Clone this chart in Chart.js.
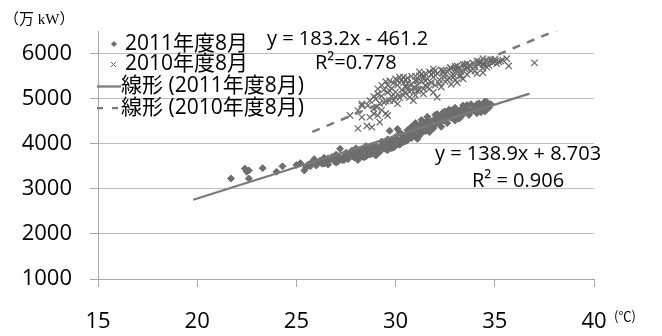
<!DOCTYPE html>
<html>
<head>
<meta charset="utf-8">
<script src="https://cdn.jsdelivr.net/npm/chart.js@4.4.1/dist/chart.umd.min.js"></script>
<style>
  html, body { margin: 0; padding: 0; background: #fff; }
  #wrap { width: 662px; height: 336px; position: relative; }
</style>
</head>
<body>
<div id="wrap"><canvas id="c"></canvas></div>
<script>
// August 2011: temperature (°C) vs. demand (万 kW)
const temp2011 = [
  21.7, 22.4, 22.5, 22.6, 22.6, 23.3, 24.0, 24.3, 25.0, 25.2, 25.4, 25.5, 25.6, 25.8, 25.9,
  26.0, 26.1, 26.2, 26.2, 26.3, 26.4, 26.5, 26.6, 26.6, 26.7, 26.8, 26.9, 27.0, 27.0, 27.1,
  27.1, 27.2, 27.3, 27.4, 27.5, 27.5, 27.6, 27.7, 27.8, 27.8, 27.9, 28.0, 28.0, 28.1, 28.2,
  28.2, 28.3, 28.4, 28.5, 28.5, 28.6, 28.6, 28.7, 28.8, 28.9, 29.0, 29.0, 29.1, 29.1, 29.2,
  29.3, 29.3, 29.4, 29.4, 29.5, 29.6, 29.6, 29.7, 29.7, 29.8, 29.8, 29.9, 30.0, 30.0, 30.1,
  30.1, 30.2, 30.2, 30.3, 30.3, 30.4, 30.4, 30.5, 30.6, 30.6, 30.7, 30.8, 30.8, 30.9, 30.9,
  31.0, 31.0, 31.1, 31.1, 31.2, 31.2, 31.3, 31.3, 31.4, 31.5, 31.5, 31.6, 31.6, 31.7, 31.7,
  31.8, 31.9, 32.0, 32.0, 32.1, 32.1, 32.2, 32.3, 32.3, 32.4, 32.5, 32.6, 32.6, 32.7, 32.8,
  32.8, 32.9, 33.0, 33.0, 33.1, 33.2, 33.3, 33.3, 33.4, 33.5, 33.6, 33.7, 33.8, 33.9, 34.0,
  34.0, 34.1, 34.2, 34.3, 34.4, 34.4, 34.5, 34.6, 34.7, 34.8,
  27.2, 27.4, 27.6, 27.9, 28.1, 28.3, 28.4, 28.7, 28.8, 29.0, 29.2, 29.5, 29.7, 29.9, 30.0,
  30.2, 30.5, 30.7, 30.9, 31.0, 31.2, 31.4, 31.6, 31.8, 32.0, 32.2, 32.4, 32.5, 32.7, 32.9,
  33.1, 33.2, 33.4, 33.6, 33.8, 34.1, 34.3, 34.5, 34.7, 26.9, 26.4, 25.7
];
const load2011 = [
  3230, 3450, 3380, 3410, 3230, 3460, 3380, 3500, 3530, 3570, 3410, 3480, 3540, 3600, 3660,
  3520, 3580, 3630, 3600, 3560, 3690, 3600, 3540, 3680, 3650, 3710, 3620, 3580, 3760, 3680,
  3610, 3890, 3640, 3720, 3800, 3700, 3660, 3750, 3850, 3770, 3700, 3780, 3900, 3640, 3830,
  3700, 3760, 3880, 3720, 3950, 3820, 3880, 3900, 3780, 3860, 3960, 3740, 3880, 3800, 3820,
  3940, 4050, 3900, 4000, 3980, 3860, 4100, 4290, 3960, 4040, 3900, 3920, 4000, 4150, 4330,
  4060, 3980, 4080, 4100, 4220, 4040, 4150, 4160, 4300, 4080, 4200, 4380, 4130, 4250, 4180,
  4460, 4180, 4110, 4320, 4400, 4300, 4240, 4530, 4360, 4460, 4280, 4600, 4380, 4400, 4260,
  4500, 4340, 4560, 4420, 4660, 4500, 4480, 4600, 4380, 4700, 4540, 4640, 4460, 4760, 4580,
  4680, 4680, 4520, 4800, 4640, 4720, 4600, 4760, 4850, 4700, 4780, 4640, 4880, 4740, 4820,
  4760, 4680, 4900, 4780, 4850, 4800, 4720, 4930, 4800, 4880,
  3700, 3640, 3780, 3810, 3740, 3860, 3700, 3760, 3940, 3850, 3920, 3880, 4060, 4120, 3960,
  4250, 4060, 4320, 4400, 4260, 4180, 4470, 4500, 4400, 4640, 4560, 4520, 4720, 4600, 4760,
  4700, 4560, 4680, 4860, 4720, 4880, 4700, 4940, 4860, 3700, 3560, 3500
];

// August 2010: temperature (°C) vs. demand (万 kW)
const temp2010 = [
  27.7, 28.1, 28.1, 28.3, 28.3, 28.3, 28.55, 28.7, 28.7, 28.8, 28.9, 28.9, 29.0, 29.05, 29.1,
  29.1, 29.1, 29.2, 29.2, 29.3, 29.4, 29.4, 29.5, 29.5, 29.6, 29.6, 29.6, 29.7, 29.7, 29.8,
  29.8, 29.9, 30.0, 30.0, 30.1, 30.1, 30.1, 30.2, 30.2, 30.3, 30.4, 30.4, 30.5, 30.5, 30.6,
  30.6, 30.7, 30.7, 30.8, 30.8, 30.9, 30.9, 31.0, 31.0, 31.1, 31.1, 31.2, 31.2, 31.3, 31.4,
  31.4, 31.4, 31.5, 31.5, 31.6, 31.7, 31.7, 31.8, 31.9, 31.9, 31.9, 32.0, 32.1, 32.1, 32.2,
  32.3, 32.3, 32.4, 32.4, 32.5, 32.6, 32.7, 32.75, 32.8, 32.8, 32.9, 33.0, 33.0, 33.1, 33.1,
  33.2, 33.2, 33.3, 33.4, 33.4, 33.5, 33.6, 33.6, 33.7, 33.8, 33.9, 34.0, 34.1, 34.1, 34.2,
  34.3, 34.4, 34.4, 34.4, 34.5, 34.6, 34.7, 34.8, 34.9, 35.0, 35.1, 35.2, 35.4, 35.6, 35.7,
  37.0,
  29.3, 29.5, 29.7, 29.9, 30.0, 30.3, 30.5, 30.6, 30.8, 31.0, 31.1, 31.3, 31.5, 31.6, 31.8,
  32.0, 32.2, 32.4, 32.6, 32.7, 32.9, 33.1, 33.3, 33.5, 33.6, 33.8, 34.0, 34.2, 34.4, 34.6,
  34.8, 35.0, 35.3, 28.6, 28.9, 29.3, 30.4, 31.2, 31.9, 33.0
];
const load2010 = [
  4630, 4340, 4740, 4590, 4850, 4890, 4400, 4590, 4960, 4370, 4670, 4780, 5000, 4810, 4630,
  5220, 5110, 4480, 4900, 5060, 4920, 5200, 4670, 4950, 4630, 5140, 5300, 4960, 5400, 5060,
  5230, 4960, 5150, 5440, 4890, 5400, 5300, 5020, 5480, 5200, 5350, 5080, 5420, 5260, 5250,
  5460, 5030, 5160, 5330, 5500, 4960, 5240, 5400, 5080, 5400, 5300, 5510, 5200, 5380, 5470,
  5110, 5220, 5560, 5300, 5440, 5220, 5600, 5360, 5580, 5140, 5480, 5300, 5030, 5560, 5420,
  5640, 5260, 5620, 5500, 5380, 5600, 5460, 5690, 5680, 5320, 5540, 5640, 5420, 5730, 5360,
  5700, 5500, 5600, 5760, 5440, 5660, 5780, 5540, 5740, 5620, 5800, 5700, 5840, 5560, 5760,
  5820, 5890, 5680, 5580, 5780, 5860, 5740, 5840, 5800, 5880, 5780, 5820, 5860, 5890, 5730,
  5800,
  4750, 5380, 5180, 5350, 5040, 5420, 5140, 5340, 5200, 5500, 5180, 5540, 5400, 5260, 5540,
  5620, 5340, 5580, 5420, 5640, 5480, 5620, 5520, 5760, 5680, 5720, 5620, 5820, 5760, 5700,
  5870, 5820, 5840, 4850, 5050, 5300, 5480, 5600, 5660, 5720
];

// Linear fits as printed on the chart
const fit2011 = { slope: 138.9, intercept: 8.703, from: 19.8, to: 36.75 };
const fit2010 = { slope: 183.2, intercept: -461.2, from: 25.8, to: 38.2 };

const xTicks = [15, 20, 25, 30, 35, 40];
const yTicks = [1000, 2000, 3000, 4000, 5000, 6000];

const toPoints = (xs, ys) => xs.map((x, i) => ({ x, y: ys[i] }));
const fitLine = f => [f.from, f.to].map(x => ({ x, y: f.slope * x + f.intercept }));

const GRAY_DIAMOND = '#6e6e6e';
const GRAY_CROSS = '#666666';
const GRAY_LINE = '#7a7a7a';
const LATIN = "'Open Sans', 'Noto Sans CJK JP'";

// Legend, fit equations and unit captions
const overlay = {
  id: 'overlay',
  afterDraw(chart) {
    const ctx = chart.ctx;
    ctx.save();
    ctx.fillStyle = '#000';

    // legend
    ctx.font = `21px ${LATIN}`;
    ctx.textAlign = 'left';
    ctx.textBaseline = 'middle';
    const rows = [44, 64.5, 86.5, 108];
    // diamond marker
    ctx.fillStyle = GRAY_DIAMOND;
    ctx.beginPath();
    ctx.moveTo(114, rows[0] - 3); ctx.lineTo(117, rows[0]); ctx.lineTo(114, rows[0] + 3); ctx.lineTo(111, rows[0]);
    ctx.closePath(); ctx.fill();
    // cross marker
    ctx.strokeStyle = GRAY_CROSS; ctx.lineWidth = 1;
    ctx.beginPath();
    ctx.moveTo(111, rows[1] - 2.5); ctx.lineTo(116, rows[1] + 2.5);
    ctx.moveTo(116, rows[1] - 2.5); ctx.lineTo(111, rows[1] + 2.5);
    ctx.stroke();
    // solid line sample
    ctx.strokeStyle = GRAY_LINE; ctx.lineWidth = 2.25;
    ctx.beginPath(); ctx.moveTo(97, rows[2]); ctx.lineTo(121, rows[2]); ctx.stroke();
    // dashed line sample
    ctx.setLineDash([6, 9]);
    ctx.beginPath(); ctx.moveTo(97, rows[3]); ctx.lineTo(121, rows[3]); ctx.stroke();
    ctx.setLineDash([]);

    ctx.fillStyle = '#000';
    ctx.fillText('2011年度8月', 125, rows[0]);
    ctx.fillText('2010年度8月', 125, rows[1]);
    ctx.fillText('線形 (2011年度8月)', 121, rows[2]);
    ctx.fillText('線形 (2010年度8月)', 121, rows[3]);

    // fit equations
    ctx.font = `20px ${LATIN}`;
    ctx.textBaseline = 'alphabetic';
    ctx.fillText('y = 183.2x - 461.2', 267, 45);
    ctx.fillText('R²=0.778', 315, 68.5);
    ctx.fillText('y = 138.9x + 8.703', 435, 160);
    ctx.fillText('R² = 0.906', 472, 187);

    // unit captions
    ctx.textBaseline = 'middle';
    ctx.font = "15px 'Liberation Serif', 'Noto Sans CJK JP'";
    ctx.fillText('（万 kW）', 4, 20);
    ctx.font = "13px 'Noto Sans CJK JP'";
    ctx.fillText('(℃)', 614, 316);
    ctx.restore();
  }
};

new Chart(document.getElementById('c'), {
  type: 'scatter',
  data: {
    datasets: [
      {
        label: '線形 (2011年度8月)',
        data: fitLine(fit2011),
        showLine: true,
        borderColor: GRAY_LINE,
        borderWidth: 2.25,
        pointRadius: 0,
        order: 0
      },
      {
        label: '線形 (2010年度8月)',
        data: fitLine(fit2010),
        showLine: true,
        borderColor: GRAY_LINE,
        borderWidth: 2.5,
        borderDash: [8, 7.5],
        pointRadius: 0,
        order: 0
      },
      {
        label: '2011年度8月',
        data: toPoints(temp2011, load2011),
        pointStyle: 'rectRot',
        pointRadius: 3.5,
        borderWidth: 1,
        backgroundColor: GRAY_DIAMOND,
        borderColor: GRAY_DIAMOND,
        order: 2
      },
      {
        label: '2010年度8月',
        data: toPoints(temp2010, load2010),
        pointStyle: 'crossRot',
        pointRadius: 4.5,
        borderWidth: 1.2,
        borderColor: GRAY_CROSS,
        backgroundColor: GRAY_CROSS,
        order: 1
      }
    ]
  },
  options: {
    responsive: true,
    maintainAspectRatio: false,
    animation: false,
    events: [],
    layout: { padding: { top: 30, right: 68, left: 0, bottom: 0 } },
    plugins: { legend: { display: false }, tooltip: { enabled: false } },
    scales: {
      x: {
        type: 'linear',
        min: xTicks[0],
        max: xTicks[xTicks.length - 1],
        afterBuildTicks: s => { s.ticks = xTicks.map(v => ({ value: v })); },
        ticks: { color: '#000', font: { family: LATIN, size: 22 }, padding: 22, maxRotation: 0, callback: v => String(v) },
        grid: { drawOnChartArea: false, drawTicks: true, tickLength: 8, color: '#a8a8a8' },
        border: { color: '#a8a8a8', width: 1 },
        afterFit: s => { s.height = 57; }
      },
      y: {
        type: 'linear',
        min: 1000,
        max: 6500,
        afterBuildTicks: s => { s.ticks = yTicks.map(v => ({ value: v })); },
        ticks: { color: '#000', font: { family: LATIN, size: 22 }, padding: 18, callback: v => String(v) },
        grid: { color: '#bdbdbd', tickLength: 8, tickColor: '#a8a8a8' },
        border: { color: '#a8a8a8', width: 1 },
        afterFit: s => { s.width = 98; }
      }
    }
  },
  plugins: [overlay]
});
</script>
</body>
</html>
